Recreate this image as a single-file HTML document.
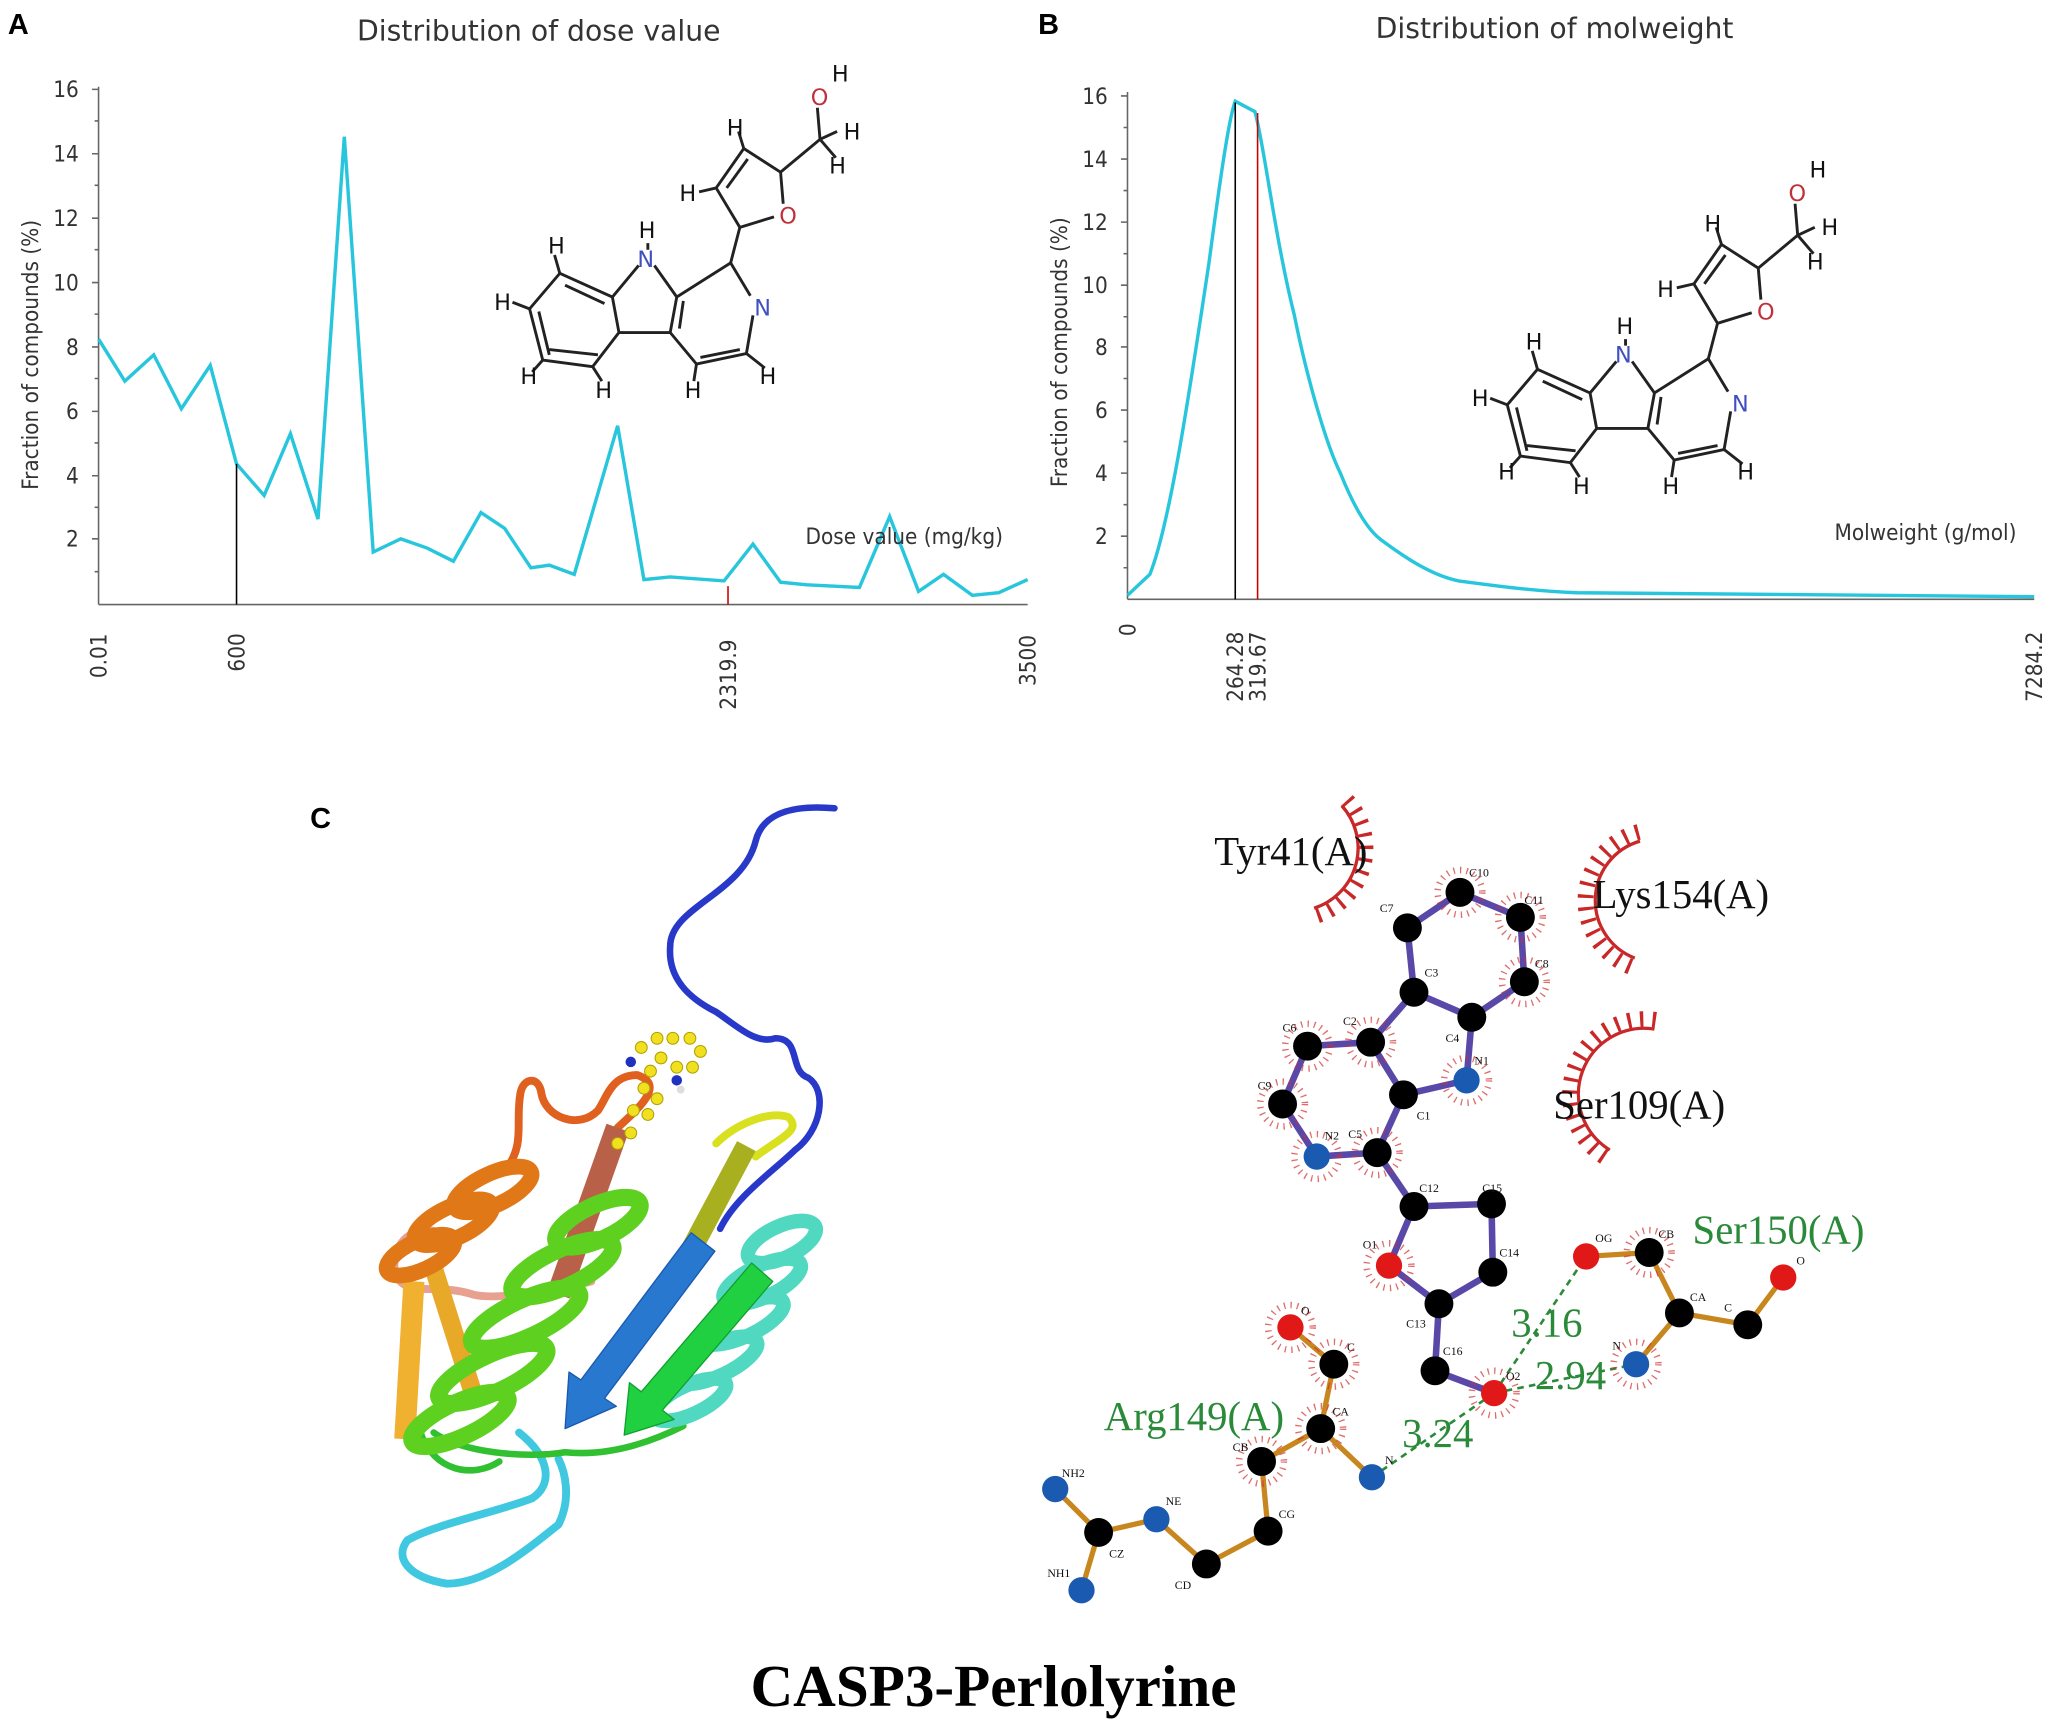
<!DOCTYPE html>
<html><head><meta charset="utf-8"><style>
html,body{margin:0;padding:0;background:#fff}
svg{display:block}
.ax{font-family:"DejaVu Sans Condensed","DejaVu Sans","Liberation Sans",sans-serif;fill:#333;font-size:17px}
.ttl{font-family:"DejaVu Sans","Liberation Sans",sans-serif;fill:#333;font-size:21.5px}
.mol{font-family:"DejaVu Sans","Liberation Sans",sans-serif;font-size:17px;fill:#111}
.lab{font-family:"Liberation Serif",serif;font-size:31px}
.at{font-family:"Liberation Serif",serif;font-size:9px;fill:#111}
</style></head><body>
<svg width="2050" height="1723" viewBox="0 0 1560 1311" preserveAspectRatio="none" xmlns="http://www.w3.org/2000/svg">
<rect width="1560" height="1311" fill="#fff"/>
<!-- Panel A -->
<text x="6" y="26" font-family="Liberation Sans,sans-serif" font-weight="bold" font-size="22">A</text>
<text x="410" y="31" class="ttl" text-anchor="middle">Distribution of dose value</text>
<g stroke="#666" stroke-width="1.2" fill="none">
<line x1="75" y1="66" x2="75" y2="460"/><line x1="75" y1="460" x2="782" y2="460"/>
<path d="M70,68h5M70,117h5M70,166h5M70,215h5M70,264h5M70,313h5M70,362h5M70,410h5M72,92h3M72,141h3M72,190h3M72,239h3M72,288h3M72,337h3M72,386h3M72,435h3"/>
</g>
<g class="ax" text-anchor="end" font-size="17">
<text x="60" y="74">16</text><text x="60" y="123">14</text><text x="60" y="172">12</text><text x="60" y="221">10</text><text x="60" y="270">8</text><text x="60" y="319">6</text><text x="60" y="368">4</text><text x="60" y="416">2</text></g>
<text class="ax" font-size="18" transform="translate(29,270) rotate(-90)" text-anchor="middle">Fraction of compounds (%)</text>
<polyline fill="none" stroke="#27c6dc" stroke-width="2.6" points="75,258 95,290 117,270 138,311 160,278 180,353 201,377 221,330 242,395 262,104 284,420 305,410 325,417 345,427 366,390 384,402 404,432 418,430 437,437 470,324 490,441 510,439 551,442 573,414 594,443 614,445 635,446 654,447 677,393 699,450 718,437 740,453 760,451 782,441"/>
<line x1="180" y1="353" x2="180" y2="460" stroke="#000" stroke-width="1.2"/>
<line x1="554" y1="446" x2="554" y2="460" stroke="#c00" stroke-width="1.2"/>
<text class="ax" x="613" y="414" font-size="18">Dose value (mg/kg)</text>
<g class="ax" font-size="17">
<text transform="translate(81,516) rotate(-90)">0.01</text>
<text transform="translate(186,511) rotate(-90)">600</text>
<text transform="translate(560,540) rotate(-90)">2319.9</text>
<text transform="translate(788,522) rotate(-90)">3500</text></g>
<!-- molecule A -->
<g id="molA">
<g stroke="#222" stroke-width="2.2" fill="none">
<polygon points="426,208 466,226 471,253 451,279 413,274 403,235"/>
<path d="M430,217 L460,231 M455,270 L418,266 M410,237 L418,270"/>
<path d="M466,226 L486,202 M498,202 L515,226 L510,253 L471,253 M515,226 L556,200 L571,225 M573,240 L568,269 L530,277 L510,253"/>
<path d="M520,229 L517,250 M563,266 L533,272"/>
<path d="M556,200 L563,173 L545,143 L566,113 L594,131 L596,155 M589,165 L563,173 M553,143 L569,121 M594,131 L624,106 L622,82"/>
<path d="M426,208 L422,194 M403,235 L390,230 M413,274 L405,283 M451,279 L458,290 M530,277 L528,290 M568,269 L582,280 M545,143 L532,146 M566,113 L562,100 M624,106 L637,100 M624,106 L636,120 M493,185 L493,190"/>
</g>
<g class="mol">
<text x="633" y="62">H</text><text x="617" y="80" fill="#c0303a">O</text><text x="642" y="106">H</text><text x="631" y="132">H</text><text x="553" y="103">H</text><text x="517" y="153">H</text><text x="593" y="170" fill="#c0303a">O</text><text x="486" y="181">H</text><text x="485" y="203" fill="#4050c0">N</text><text x="417" y="193">H</text><text x="376" y="236">H</text><text x="574" y="240" fill="#4050c0">N</text><text x="396" y="292">H</text><text x="453" y="303">H</text><text x="521" y="303">H</text><text x="578" y="292">H</text></g>
</g>
<!-- Panel B -->
<text x="790" y="26" font-family="Liberation Sans,sans-serif" font-weight="bold" font-size="22">B</text>
<text x="1183" y="29" class="ttl" text-anchor="middle">Distribution of molweight</text>
<g stroke="#666" stroke-width="1.2" fill="none">
<line x1="858" y1="70" x2="858" y2="456"/><line x1="858" y1="456" x2="1548" y2="456"/>
<path d="M853,73h5M853,121h5M853,169h5M853,217h5M853,264h5M853,312h5M853,360h5M853,408h5M855,97h3M855,145h3M855,193h3M855,241h3M855,288h3M855,336h3M855,384h3M855,432h3"/>
</g>
<g class="ax" text-anchor="end" font-size="17">
<text x="843" y="79">16</text><text x="843" y="127">14</text><text x="843" y="175">12</text><text x="843" y="223">10</text><text x="843" y="270">8</text><text x="843" y="318">6</text><text x="843" y="366">4</text><text x="843" y="414">2</text></g>
<text class="ax" font-size="18" transform="translate(812,268) rotate(-90)" text-anchor="middle">Fraction of compounds (%)</text>
<path fill="none" stroke="#27c6dc" stroke-width="2.6" d="M858,453 L875,437 C890,400 905,300 920,200 C928,140 935,90 940,77 L955,85 C962,110 970,180 985,240 C995,290 1010,340 1020,360 C1030,385 1040,402 1050,410 C1070,425 1090,438 1110,442 C1140,446 1170,450 1200,451 L1548,454"/>
<line x1="940" y1="78" x2="940" y2="456" stroke="#000" stroke-width="1.2"/>
<line x1="957" y1="86" x2="957" y2="456" stroke="#c00" stroke-width="1.2"/>
<text class="ax" x="1396" y="411" font-size="18">Molweight (g/mol)</text>
<g class="ax" font-size="17">
<text transform="translate(864,484) rotate(-90)">0</text>
<text transform="translate(946,534) rotate(-90)">264.28</text>
<text transform="translate(963,534) rotate(-90)">319.67</text>
<text transform="translate(1554,534) rotate(-90)">7284.2</text></g>
<use href="#molA" transform="translate(744,73)"/>
<!-- Panel C -->
<text x="236" y="630" font-family="Liberation Sans,sans-serif" font-weight="bold" font-size="22">C</text>
<!-- protein -->
<g fill="none" stroke-linecap="round" stroke-linejoin="round">
<path d="M635,615 C600,612 580,620 575,640 C565,680 510,690 510,720 C508,745 525,760 545,770 C560,780 575,795 590,790 C610,790 600,815 615,820 C630,830 625,860 605,875 C590,890 560,910 548,935" stroke="#2838c8" stroke-width="5"/>
<path d="M470,858 C490,840 505,825 485,818 C465,818 462,835 455,845 C440,860 415,850 412,832 C410,818 398,820 396,832 C392,855 400,870 385,890" stroke="#e06020" stroke-width="6"/>
<path d="M340,940 C320,930 300,940 300,965 C305,990 330,975 360,985 C380,990 430,980 450,975" stroke="#e8a090" stroke-width="6"/>
<path d="M395,1090 C420,1110 420,1130 405,1140 C380,1150 330,1160 310,1172 C300,1185 310,1200 340,1205 C370,1205 400,1180 425,1160 C435,1140 430,1120 425,1110" stroke="#40c8e0" stroke-width="6"/>
<path d="M320,1090 C330,1120 360,1125 380,1112 M330,1090 C350,1105 400,1110 430,1105 C460,1108 490,1100 520,1085" stroke="#30c030" stroke-width="5"/>
<path d="M575,880 C595,865 610,860 600,850 C585,845 560,855 545,870" stroke="#d8e020" stroke-width="6"/>
<path d="M470,858 L425,985" stroke="#b86048" stroke-width="18" stroke-linecap="butt"/>
<path d="M568,872 L520,962" stroke="#a8b020" stroke-width="16" stroke-linecap="butt"/>
<path d="M315,975 L308,1095" stroke="#f0b030" stroke-width="16" stroke-linecap="butt"/>
<path d="M330,965 L360,1060" stroke="#e8a828" stroke-width="14" stroke-linecap="butt"/>
<g stroke="#e07818" stroke-width="12">
<ellipse cx="375" cy="905" rx="32" ry="12" transform="rotate(-25 375 905)"/>
<ellipse cx="345" cy="930" rx="32" ry="12" transform="rotate(-25 345 930)"/>
<ellipse cx="320" cy="955" rx="28" ry="11" transform="rotate(-25 320 955)"/></g>
<g stroke="#50d8c0" stroke-width="11">
<ellipse cx="595" cy="945" rx="28" ry="12" transform="rotate(-25 595 945)"/>
<ellipse cx="580" cy="975" rx="32" ry="12" transform="rotate(-25 580 975)"/>
<ellipse cx="565" cy="1005" rx="34" ry="12" transform="rotate(-25 565 1005)"/>
<ellipse cx="545" cy="1035" rx="34" ry="12" transform="rotate(-25 545 1035)"/>
<ellipse cx="525" cy="1065" rx="30" ry="11" transform="rotate(-25 525 1065)"/></g>
<g stroke="#5ed020" stroke-width="13">
<ellipse cx="455" cy="930" rx="35" ry="13" transform="rotate(-25 455 930)"/>
<ellipse cx="428" cy="965" rx="42" ry="14" transform="rotate(-25 428 965)"/>
<ellipse cx="400" cy="1003" rx="45" ry="14" transform="rotate(-25 400 1003)"/>
<ellipse cx="375" cy="1045" rx="45" ry="14" transform="rotate(-25 375 1045)"/>
<ellipse cx="350" cy="1080" rx="40" ry="13" transform="rotate(-25 350 1080)"/></g>
<polygon points="526,938 544,952 460,1064 469,1070 430,1087 433,1044 442,1050" fill="#2878d0" stroke="#1858b0" stroke-width="1"/>
<polygon points="572,961 588,975 504,1073 513,1080 475,1092 479,1052 488,1059" fill="#20d040" stroke="#10a030" stroke-width="1"/>
</g>
<g fill="#f0e020" stroke="#b0a000" stroke-width="0.8">
<circle cx="488" cy="797" r="4.5"/><circle cx="500" cy="790" r="4.5"/><circle cx="512" cy="790" r="4.5"/><circle cx="525" cy="790" r="4.5"/><circle cx="533" cy="800" r="4.5"/><circle cx="527" cy="812" r="4.5"/><circle cx="515" cy="812" r="4.5"/><circle cx="503" cy="805" r="4.5"/><circle cx="495" cy="815" r="4.5"/><circle cx="490" cy="828" r="4.5"/><circle cx="500" cy="836" r="4.5"/><circle cx="493" cy="848" r="4.5"/><circle cx="482" cy="845" r="4.5"/><circle cx="480" cy="862" r="4.5"/><circle cx="470" cy="870" r="4.5"/></g>
<circle cx="480" cy="808" r="4" fill="#2030c0"/><circle cx="515" cy="822" r="4" fill="#2030c0"/><circle cx="518" cy="829" r="3" fill="#ddd"/>
<!-- ligplot -->
<g stroke="#c8861e" stroke-width="4" fill="none">
<path d="M1207,956 L1255,953 L1278,999 L1330,1008 L1357,972 M1278,999 L1245,1038"/>
<path d="M982,1010 L1015,1038 L1005,1087 L960,1112 L965,1165 L918,1190 L880,1156 L836,1166 L803,1133 M836,1166 L823,1210 M1005,1087 L1044,1124"/></g>
<g stroke="#5a48a8" stroke-width="5" fill="none" stroke-linejoin="round">
<path d="M1071,706 L1111,679 L1157,698 L1160,747 L1120,774 L1076,755 Z M1076,755 L1043,793 L1068,833 L1116,822 L1120,774 M1043,793 L995,796 L976,840 L1002,880 L1048,877 L1068,833 M1048,877 L1076,918 L1135,916 L1136,968 L1095,992 L1057,963 L1076,918 M1095,992 L1092,1043 L1137,1060"/></g>
<g stroke="#2a8a3a" stroke-width="2" stroke-dasharray="5 4" fill="none">
<path d="M1137,1060 L1207,956 M1137,1060 L1245,1038 M1137,1060 L1044,1124"/></g>
<g fill="none" stroke="#d03030" stroke-width="5" stroke-dasharray="1 4" opacity="0.7">
<circle cx="1111" cy="679" r="17"/><circle cx="1157" cy="698" r="17"/><circle cx="1160" cy="747" r="17"/><circle cx="1116" cy="822" r="17"/><circle cx="995" cy="796" r="17"/><circle cx="976" cy="840" r="17"/><circle cx="1043" cy="793" r="17"/><circle cx="1002" cy="880" r="17"/><circle cx="1048" cy="877" r="17"/><circle cx="1057" cy="963" r="17"/><circle cx="1137" cy="1060" r="17"/><circle cx="1255" cy="953" r="17"/><circle cx="982" cy="1010" r="17"/><circle cx="1015" cy="1038" r="17"/><circle cx="1005" cy="1087" r="17"/><circle cx="960" cy="1112" r="17"/><circle cx="1245" cy="1038" r="17"/></g>
<g fill="#000">
<circle cx="1111" cy="679" r="11"/><circle cx="1157" cy="698" r="11"/><circle cx="1071" cy="706" r="11"/><circle cx="1160" cy="747" r="11"/><circle cx="1076" cy="755" r="11"/><circle cx="1120" cy="774" r="11"/><circle cx="995" cy="796" r="11"/><circle cx="1043" cy="793" r="11"/><circle cx="976" cy="840" r="11"/><circle cx="1068" cy="833" r="11"/><circle cx="1048" cy="877" r="11"/><circle cx="1076" cy="918" r="11"/><circle cx="1135" cy="916" r="11"/><circle cx="1136" cy="968" r="11"/><circle cx="1095" cy="992" r="11"/><circle cx="1092" cy="1043" r="11"/>
<circle cx="1255" cy="953" r="11"/><circle cx="1278" cy="999" r="11"/><circle cx="1330" cy="1008" r="11"/>
<circle cx="1015" cy="1038" r="11"/><circle cx="1005" cy="1087" r="11"/><circle cx="960" cy="1112" r="11"/><circle cx="965" cy="1165" r="11"/><circle cx="918" cy="1190" r="11"/><circle cx="836" cy="1166" r="11"/></g>
<g fill="#1a5ab0"><circle cx="1116" cy="822" r="10"/><circle cx="1002" cy="880" r="10"/><circle cx="1245" cy="1038" r="10"/><circle cx="1044" cy="1124" r="10"/><circle cx="880" cy="1156" r="10"/><circle cx="803" cy="1133" r="10"/><circle cx="823" cy="1210" r="10"/></g>
<g fill="#e01818"><circle cx="1057" cy="963" r="10"/><circle cx="1137" cy="1060" r="10"/><circle cx="1207" cy="956" r="10"/><circle cx="1357" cy="972" r="10"/><circle cx="982" cy="1010" r="10"/></g>
<g class="at">
<text x="1118" y="667">C10</text><text x="1160" y="688">C11</text><text x="1050" y="694">C7</text><text x="1168" y="736">C8</text><text x="1084" y="743">C3</text><text x="1100" y="793">C4</text><text x="1122" y="810">N1</text><text x="976" y="785">C6</text><text x="1022" y="780">C2</text><text x="957" y="829">C9</text><text x="1078" y="852">C1</text><text x="1008" y="867">N2</text><text x="1026" y="866">C5</text><text x="1080" y="907">C12</text><text x="1128" y="907">C15</text><text x="1037" y="950">O1</text><text x="1141" y="956">C14</text><text x="1070" y="1010">C13</text><text x="1098" y="1031">C16</text><text x="1146" y="1050">O2</text>
<text x="1214" y="945">OG</text><text x="1262" y="942">CB</text><text x="1286" y="990">CA</text><text x="1312" y="998">C</text><text x="1367" y="962">O</text><text x="1227" y="1027">N</text>
<text x="990" y="1000">O</text><text x="1025" y="1028">C</text><text x="1014" y="1077">CA</text><text x="938" y="1104">CB</text><text x="1054" y="1114">N</text><text x="973" y="1155">CG</text><text x="894" y="1209">CD</text><text x="887" y="1145">NE</text><text x="844" y="1185">CZ</text><text x="808" y="1124">NH2</text><text x="797" y="1200">NH1</text></g>
<g fill="#2a8a3a" class="lab" font-size="21"><text x="1150" y="1017">3.16</text><text x="1168" y="1057">2.94</text><text x="1067" y="1101">3.24</text></g>
<!-- hydrophobic arcs -->
<g fill="none" stroke="#c82828">
<path d="M1021,613 A48,48 0 0 1 1000,691" stroke-width="2.5"/>
<path d="M1025,609 A54,54 0 0 1 1001,697" stroke-width="12" stroke-dasharray="2.5 7"/>
<path d="M1248,640 A47,47 0 0 0 1244,729" stroke-width="2.5"/>
<path d="M1247,633 A54,54 0 0 0 1242,736" stroke-width="12" stroke-dasharray="2.5 7"/>
<path d="M1259,783 A50,50 0 0 0 1225,875" stroke-width="2.5"/>
<path d="M1260,776 A57,57 0 0 0 1222,881" stroke-width="12" stroke-dasharray="2.5 7"/></g>
<g class="lab" fill="#111"><text x="924" y="658">Tyr41(A)</text><text x="1212" y="691">Lys154(A)</text><text x="1182" y="851">Ser109(A)</text></g>
<g class="lab" fill="#2a8a3a"><text x="1288" y="946">Ser150(A)</text><text x="840" y="1088">Arg149(A)</text></g>
<text x="756" y="1298" text-anchor="middle" font-family="Liberation Serif,serif" font-weight="bold" font-size="45">CASP3-Perlolyrine</text>
</svg>
</body></html>
